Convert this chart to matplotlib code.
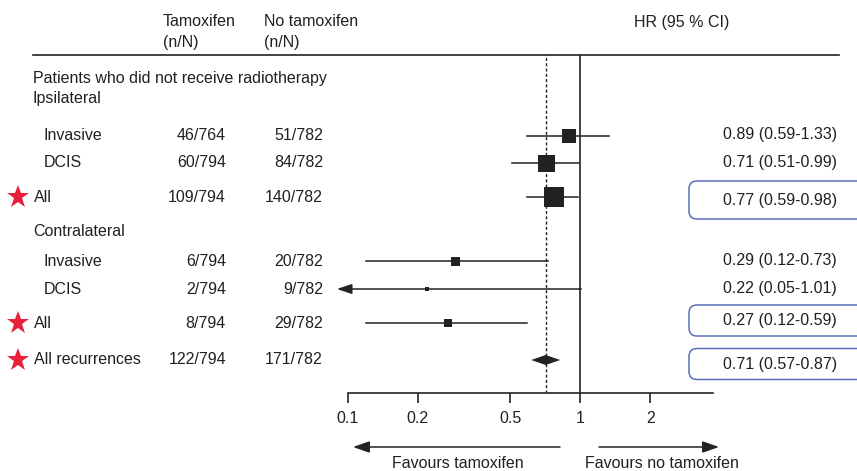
import matplotlib
matplotlib.use("Agg")
import matplotlib.pyplot as plt
from matplotlib.patches import FancyBboxPatch, Polygon
from matplotlib.ticker import FixedLocator, FixedFormatter, NullLocator

plt.rcParams['font.family'] = ['Liberation Sans', 'DejaVu Sans']

# ---------------- data ----------------
labels = ["Invasive", "DCIS", "All", "Invasive", "DCIS", "All", "All recurrences"]
tamoxifen = ["46/764", "60/794", "109/794", "6/794", "2/794", "8/794", "122/794"]
no_tamoxifen = ["51/782", "84/782", "140/782", "20/782", "9/782", "29/782", "171/782"]
hr = [0.89, 0.71, 0.77, 0.29, 0.22, 0.27, 0.71]
ci_low = [0.59, 0.51, 0.59, 0.12, 0.05, 0.12, 0.57]
ci_high = [1.33, 0.99, 0.98, 0.73, 1.01, 0.59, 0.87]
starred = [False, False, True, False, False, True, True]
x_ticks = [0.1, 0.2, 0.5, 1, 2]
x_tick_labels = ["0.1", "0.2", "0.5", "1", "2"]
overall_hr = 0.71

# ---------------- layout / style ----------------
W, H = 857, 471
row_y = [136, 162.5, 197, 261, 289, 323, 360]
hr_text_y = [135, 163, 200, 260, 288, 320.5, 364]
indent = [44, 44, 34, 44, 44, 34, 34]
square_px = [14, 17, 20, 9, 5, 8, None]  # None -> diamond
boxed = [False, False, True, False, False, True, True]
box_h = [0, 0, 38, 0, 0, 31, 31]
TXT = '#231f20'
FS = 11.5
LINE = '#222222'

fig = plt.figure(figsize=(W / 100, H / 100), dpi=100)

# overlay axes in pixel coordinates for text and decorations
ov = fig.add_axes([0, 0, 1, 1])
ov.set_xlim(0, W)
ov.set_ylim(H, 0)
ov.axis('off')

# forest axes
x0_px, x1_px, one_px = 347.5, 712.7, 580.3
decade_px = one_px - x0_px
top_px, bot_px = 55, 393
ax = fig.add_axes([x0_px / W, 1 - bot_px / H, (x1_px - x0_px) / W, (bot_px - top_px) / H])
ax.set_xscale('log')
ax.set_xlim(0.1, 10 ** ((x1_px - one_px) / decade_px))
ax.set_ylim(bot_px, top_px)
ax.patch.set_alpha(0)
for s in ['top', 'right', 'left']:
    ax.spines[s].set_visible(False)
ax.spines['bottom'].set_color(LINE)
ax.spines['bottom'].set_linewidth(1.2)
ax.xaxis.set_major_locator(FixedLocator(x_ticks))
ax.xaxis.set_major_formatter(FixedFormatter(x_tick_labels))
ax.xaxis.set_minor_locator(NullLocator())
ax.tick_params(axis='x', direction='out', length=7, width=1.2, color=LINE,
               labelsize=FS, labelcolor=TXT, pad=6)
ax.set_yticks([])

ax.axvline(1, color=LINE, lw=1.2)
ax.axvline(overall_hr, color=LINE, lw=1, ls=(0, (2.2, 1.6)))

xmin = ax.get_xlim()[0]
for i in range(len(labels)):
    y = row_y[i]
    if square_px[i] is None:
        spread = 1.155
        half_h = 5
        poly = Polygon([[hr[i] / spread, y], [hr[i], y - half_h], [hr[i] * spread, y],
                        [hr[i], y + half_h]], closed=True, color=LINE, lw=0)
        ax.add_patch(poly)
        continue
    if ci_low[i] < xmin:
        tip = xmin * 0.9
        ax.annotate('', xy=(tip, y), xytext=(ci_high[i], y),
                    arrowprops=dict(arrowstyle='-|>,head_length=0.9,head_width=0.3',
                                    color=LINE, lw=1.1, shrinkA=0, shrinkB=0),
                    annotation_clip=False)
    else:
        ax.plot([ci_low[i], ci_high[i]], [y, y], color=LINE, lw=1.1, clip_on=False)
    ax.plot([hr[i]], [y], marker='s', ms=square_px[i] * 0.72, color=LINE,
            mec=LINE, mew=0, clip_on=False)

# header
ov.text(163, 22, "Tamoxifen", fontsize=FS, color=TXT, ha='left', va='center')
ov.text(163, 42, "(n/N)", fontsize=FS, color=TXT, ha='left', va='center')
ov.text(264, 22, "No tamoxifen", fontsize=FS, color=TXT, ha='left', va='center')
ov.text(264, 42, "(n/N)", fontsize=FS, color=TXT, ha='left', va='center')
ov.text(634, 22, "HR (95 % CI)", fontsize=FS, color=TXT, ha='left', va='center')
ov.plot([33, 839], [55, 55], color=LINE, lw=1.2)

ov.text(33, 78, "Patients who did not receive radiotherapy", fontsize=FS, color=TXT,
        ha='left', va='center')
ov.text(33, 98, "Ipsilateral", fontsize=FS, color=TXT, ha='left', va='center')
ov.text(33, 231, "Contralateral", fontsize=FS, color=TXT, ha='left', va='center')

for i in range(len(labels)):
    y = row_y[i]
    ov.text(indent[i], y, labels[i], fontsize=FS, color=TXT, ha='left', va='center')
    ov.text(226, y, tamoxifen[i], fontsize=FS, color=TXT, ha='right', va='center')
    ov.text(323, y, no_tamoxifen[i], fontsize=FS, color=TXT, ha='right', va='center')
    if starred[i]:
        ov.plot([18], [y], marker='*', ms=17, color='#e8203a', mew=0)
    ov.text(837, hr_text_y[i], f"{hr[i]:.2f} ({ci_low[i]:.2f}-{ci_high[i]:.2f})",
            fontsize=FS, color=TXT, ha='right', va='center')
    if boxed[i]:
        h = box_h[i]
        ov.add_patch(FancyBboxPatch((689, hr_text_y[i] - h / 2), 180, h,
                                    boxstyle='round,pad=0,rounding_size=8',
                                    fc='none', ec='#5a6fb8', lw=1.1))

# favours arrows
ov.annotate('', xy=(353, 447), xytext=(560, 447),
            arrowprops=dict(arrowstyle='-|>,head_length=1.0,head_width=0.35',
                            color=LINE, lw=1.1, shrinkA=0, shrinkB=0))
ov.annotate('', xy=(719, 447), xytext=(599, 447),
            arrowprops=dict(arrowstyle='-|>,head_length=1.0,head_width=0.35',
                            color=LINE, lw=1.1, shrinkA=0, shrinkB=0))
ov.text(458, 463, "Favours tamoxifen", fontsize=FS, color=TXT, ha='center', va='center')
ov.text(661.5, 463, "Favours no tamoxifen", fontsize=FS, color=TXT, ha='center', va='center')

fig.savefig("out.png", dpi=100)
